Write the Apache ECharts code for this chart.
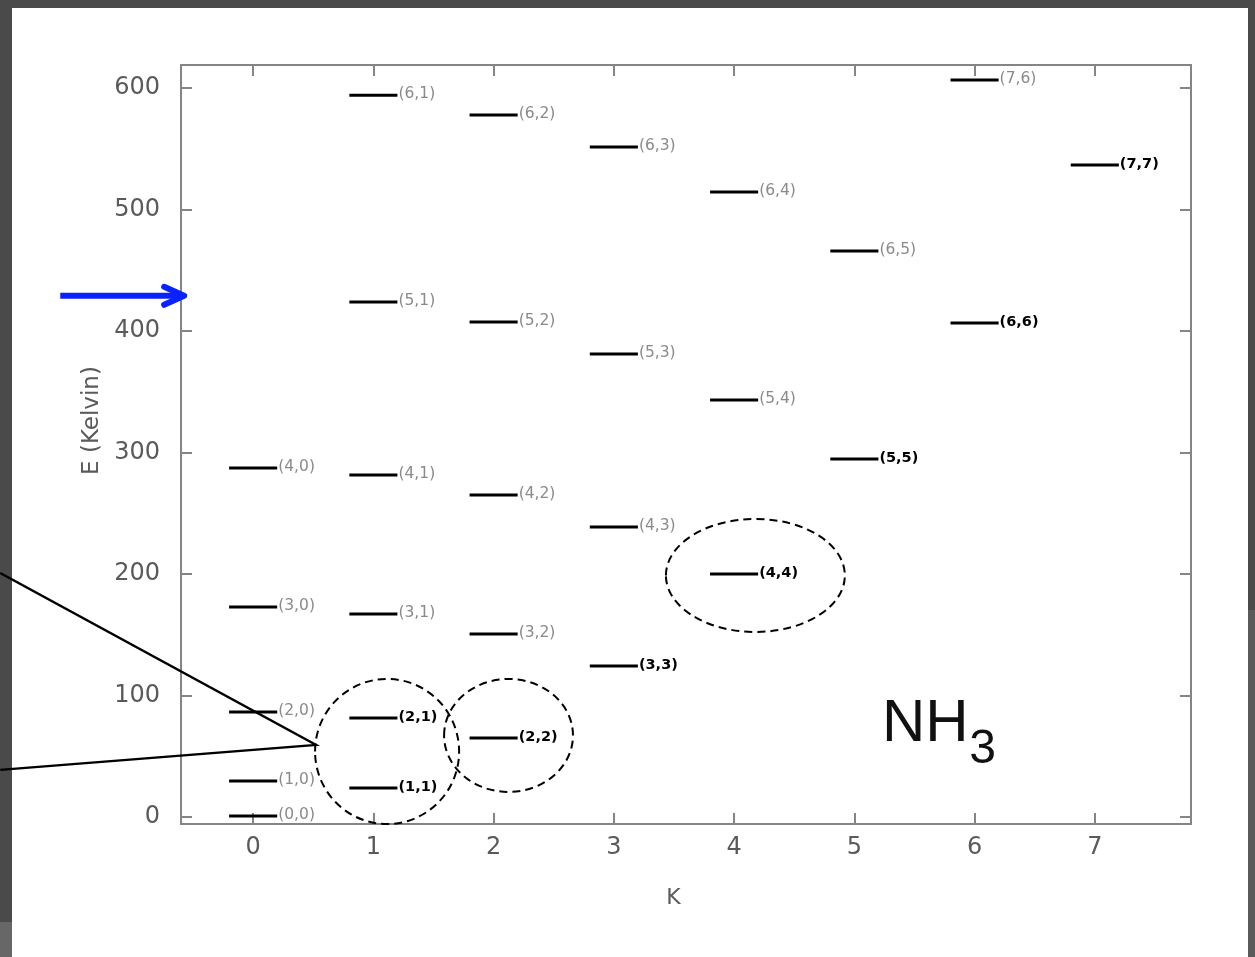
<!DOCTYPE html>
<html><head><meta charset="utf-8">
<script src="https://cdn.jsdelivr.net/npm/echarts@6/dist/echarts.min.js"></script>
<style>
html,body{margin:0;padding:0;background:#4a4a4a;width:1255px;height:957px;overflow:hidden;}
#panel{position:absolute;left:12px;top:8px;width:1236px;height:949px;background:#fff;}
#lowleft{position:absolute;left:0;top:922px;width:12px;height:35px;background:#676767;}
#lowright{position:absolute;left:1248px;top:610px;width:7px;height:347px;background:#5a5a5a;}
#chart{position:absolute;left:0;top:0;width:1255px;height:957px;}
</style></head><body>
<div id="lowleft"></div><div id="lowright"></div>
<div id="panel"></div><div id="chart"></div>
<script>
// Rotational levels of NH3: K, J, energy (Kelvin), highlighted (bold) labels
const levelK = [0, 0, 0, 0, 0, 1, 1, 1, 1, 1, 1, 2, 2, 2, 2, 2, 3, 3, 3, 3, 4, 4, 4, 5, 5, 6, 6, 7];
const levelJ = [0, 1, 2, 3, 4, 1, 2, 3, 4, 5, 6, 2, 3, 4, 5, 6, 3, 4, 5, 6, 4, 5, 6, 5, 6, 6, 7, 7];
const levelE = [0.8, 29.6, 86.4, 172.8, 287.2,
                23.9, 81.5, 167.0, 281.5, 423.9, 594.0,
                65.0, 150.6, 265.0, 407.4, 577.8,
                124.3, 238.7, 381.0, 551.4,
                200.0, 343.2, 514.4,
                294.6, 465.8,
                406.6, 606.6,
                536.6];
const levelBold = [0, 0, 0, 0, 0,
                   1, 1, 0, 0, 0, 0,
                   1, 0, 0, 0, 0,
                   1, 0, 0, 0,
                   1, 0, 0,
                   1, 0,
                   1, 0,
                   1];
const xTicks = [0, 1, 2, 3, 4, 5, 6, 7];
const yTicks = [0, 100, 200, 300, 400, 500, 600];

// Annotations in data coordinates
const circleCenterK = [1.114, 2.124, 4.177];
const circleCenterE = [53.9, 67.1, 198.8];
const circleRadiusK = [0.599, 0.536, 0.744];
const circleRadiusE = [59.7, 46.5, 46.5];
const pointerK = [-2.103, 0.524, -2.103];
const pointerE = [200.8, 59.3, 38.7];
const arrowK = [-1.604, -0.549];
const arrowE = 429;

const chart = echarts.init(document.getElementById('chart'), null, {renderer: 'canvas'});
const halfWidth = 0.2;
const axisColor = '#858585';
const labelColor = '#5a5a5a';
const data = levelK.map((k, i) => [k, levelE[i], levelJ[i], levelBold[i]]);

const commonX = {
  type: 'value', min: -0.6, max: 7.8, splitNumber: 8,
  axisLine: {show: true, onZero: false, lineStyle: {color: axisColor, width: 2}},
  axisTick: {show: true, inside: true, length: 11, customValues: xTicks, lineStyle: {color: axisColor, width: 2}},
  splitLine: {show: false}
};
const commonY = {
  type: 'value', min: -5.8, max: 619,
  axisLine: {show: true, onZero: false, lineStyle: {color: axisColor, width: 2}},
  axisTick: {show: true, inside: true, length: 11, customValues: yTicks, lineStyle: {color: axisColor, width: 2}},
  splitLine: {show: false}
};

chart.setOption({
  animation: false,
  backgroundColor: 'transparent',
  grid: {left: 181, top: 65, right: 64, bottom: 133, containLabel: false},
  xAxis: [
    Object.assign({}, commonX, {
      position: 'bottom', name: 'K', nameLocation: 'middle', nameGap: 63,
      nameTextStyle: {fontSize: 22, color: labelColor, fontFamily: 'DejaVu Sans', padding: [0, 25, 0, 0]},
      axisLabel: {show: true, customValues: xTicks, margin: 12, fontSize: 24, color: labelColor, fontFamily: 'DejaVu Sans'}
    }),
    Object.assign({}, commonX, {position: 'top', axisLabel: {show: false}})
  ],
  yAxis: [
    Object.assign({}, commonY, {
      position: 'left', name: 'E (Kelvin)', nameLocation: 'middle', nameGap: 74, nameRotate: 90,
      nameTextStyle: {fontSize: 23, color: labelColor, fontFamily: 'DejaVu Sans', padding: [0, 0, 0, 48]},
      axisLabel: {show: true, customValues: yTicks, margin: 21, fontSize: 24, color: labelColor, fontFamily: 'DejaVu Sans'}
    }),
    Object.assign({}, commonY, {position: 'right', axisLabel: {show: false}})
  ],
  series: [{
    type: 'custom',
    xAxisIndex: 0, yAxisIndex: 0,
    data: data,
    encode: {x: 0, y: 1},
    clip: false,
    renderItem: function (params, api) {
      const k = api.value(0), e = api.value(1), j = api.value(2);
      const bold = api.value(3) === 1;
      const p1 = api.coord([k - halfWidth, e]);
      const p2 = api.coord([k + halfWidth, e]);
      return {
        type: 'group',
        children: [
          {type: 'line', shape: {x1: p1[0], y1: p1[1], x2: p2[0], y2: p2[1]},
           style: {stroke: '#000', lineWidth: 3}},
          {type: 'text', x: p2[0] + 1, y: p1[1] - 1,
           style: {text: '(' + j + ',' + k + ')', fill: bold ? '#000' : '#8a8a8a',
                   fontSize: bold ? 14.5 : 15.5, fontWeight: bold ? 'bold' : 'normal',
                   fontFamily: 'DejaVu Sans', align: 'left', verticalAlign: 'middle'}}
        ]
      };
    }
  }]
});

function px(k, e) { return chart.convertToPixel({xAxisIndex: 0, yAxisIndex: 0}, [k, e]); }

const graphics = [];
for (let i = 0; i < circleCenterK.length; i++) {
  const c = px(circleCenterK[i], circleCenterE[i]);
  const r = px(circleCenterK[i] + circleRadiusK[i], circleCenterE[i] + circleRadiusE[i]);
  graphics.push({
    type: 'ellipse', z: 100,
    shape: {cx: c[0], cy: c[1], rx: Math.abs(r[0] - c[0]), ry: Math.abs(c[1] - r[1])},
    style: {fill: null, stroke: '#000', lineWidth: 2, lineDash: [8, 5]}
  });
}
graphics.push({
  type: 'polyline', z: 100,
  shape: {points: pointerK.map((k, i) => px(k, pointerE[i]))},
  style: {fill: null, stroke: '#000', lineWidth: 2.3}
});
const a0 = px(arrowK[0], arrowE), a1 = px(arrowK[1], arrowE);
const tipX = a1[0] - 3;
graphics.push({
  type: 'line', z: 100,
  shape: {x1: a0[0], y1: a0[1], x2: tipX - 3, y2: a1[1]},
  style: {stroke: '#0a22ff', lineWidth: 6}
});
graphics.push({
  type: 'polyline', z: 100,
  shape: {points: [[tipX - 20, a1[1] - 9], [tipX, a1[1]], [tipX - 20, a1[1] + 9]]},
  style: {fill: null, stroke: '#0a22ff', lineWidth: 6, lineCap: 'round', lineJoin: 'round'}
});
const nh = px(5.23, 76);
graphics.push({
  type: 'text', z: 100, x: nh[0], y: nh[1],
  style: {text: 'NH', fontSize: 60, fontFamily: 'Liberation Sans', fill: '#111', align: 'left', verticalAlign: 'middle'}
});
const sub = px(5.955, 55);
graphics.push({
  type: 'text', z: 100, x: sub[0], y: sub[1],
  style: {text: '3', fontSize: 48, fontFamily: 'Liberation Sans', fill: '#111', align: 'left', verticalAlign: 'middle'}
});
chart.setOption({graphic: {elements: graphics}});
</script>
</body></html>
